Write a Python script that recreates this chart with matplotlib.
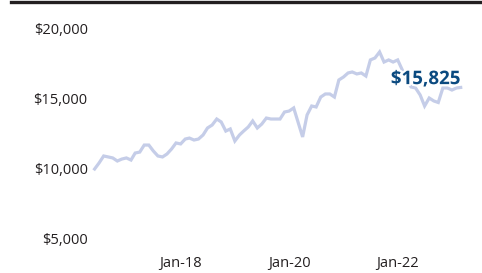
import pandas as pd
import matplotlib
matplotlib.use("Agg")
import matplotlib.pyplot as plt
import matplotlib.dates as mdates
from matplotlib.lines import Line2D
import matplotlib.patheffects as pe

# growth of $10,000, month-end values May-16 .. Feb-23
dates = pd.date_range("2016-05-31", periods=82, freq="ME")
values = [
    10000, 10430, 10930, 10860, 10790, 10570, 10710, 10790, 10640, 11140,
    11210, 11710, 11710, 11290, 10930, 10860, 11070, 11430, 11860, 11790,
    12140, 12210, 12070, 12140, 12430, 12930, 13140, 13570, 13360, 12710,
    12860, 12000, 12430, 12710, 13000, 13430, 12930, 13210, 13640, 13570,
    13570, 13570, 14070, 14140, 14360, 13360, 12290, 13860, 14500, 14430,
    15140, 15360, 15360, 15140, 16360, 16570, 16860, 16930, 16790, 16860,
    16640, 17790, 17930, 18360, 17640, 17790, 17640, 17790, 17070, 16360,
    15860, 15790, 15290, 14500, 15070, 14860, 14750, 15790, 15790, 15640,
    15790, 15825,
]
yticks = [5000, 10000, 15000, 20000]
xticks = ["2018-01-01", "2020-01-01", "2022-01-01"]
end_label = "$15,825"

plt.rcParams['font.family'] = ['Open Sans', 'DejaVu Sans']

fig = plt.figure(figsize=(4.82, 2.73), dpi=100)
ax = fig.add_axes([94.6 / 482, 34 / 273, (460.7 - 94.6) / 482, 210 / 273])

ax.plot(dates, values, color="#c5cde8", linewidth=2.3, solid_joinstyle="miter", clip_on=False)

ax.set_xlim(dates[0], dates[-1])
ax.set_ylim(5000, 20000)
ax.set_yticks(yticks)
ax.set_yticklabels(["${:,}".format(v) for v in yticks])
ax.set_xticks(pd.to_datetime(xticks))
ax.xaxis.set_major_formatter(mdates.DateFormatter("%b-%y"))
ax.tick_params(axis="y", length=0, pad=5, labelsize=10.5, labelcolor="#231f20")
ax.tick_params(axis="x", length=0, pad=12, labelsize=10.5, labelcolor="#231f20")
for s in ax.spines.values():
    s.set_visible(False)

ax.annotate(end_label, xy=(dates[-1], values[-1]), xytext=(0, 6), textcoords="offset points",
            ha="right", va="center", fontsize=13.5, fontweight="bold", color="#0b4a80",
            path_effects=[pe.withStroke(linewidth=3, foreground="white")])

# rule along the top
fig.add_artist(Line2D([11 / 482, 1], [1 - 2 / 273, 1 - 2 / 273], color="#231f20", linewidth=2.4,
                      transform=fig.transFigure))

fig.savefig("out.png", dpi=100)
